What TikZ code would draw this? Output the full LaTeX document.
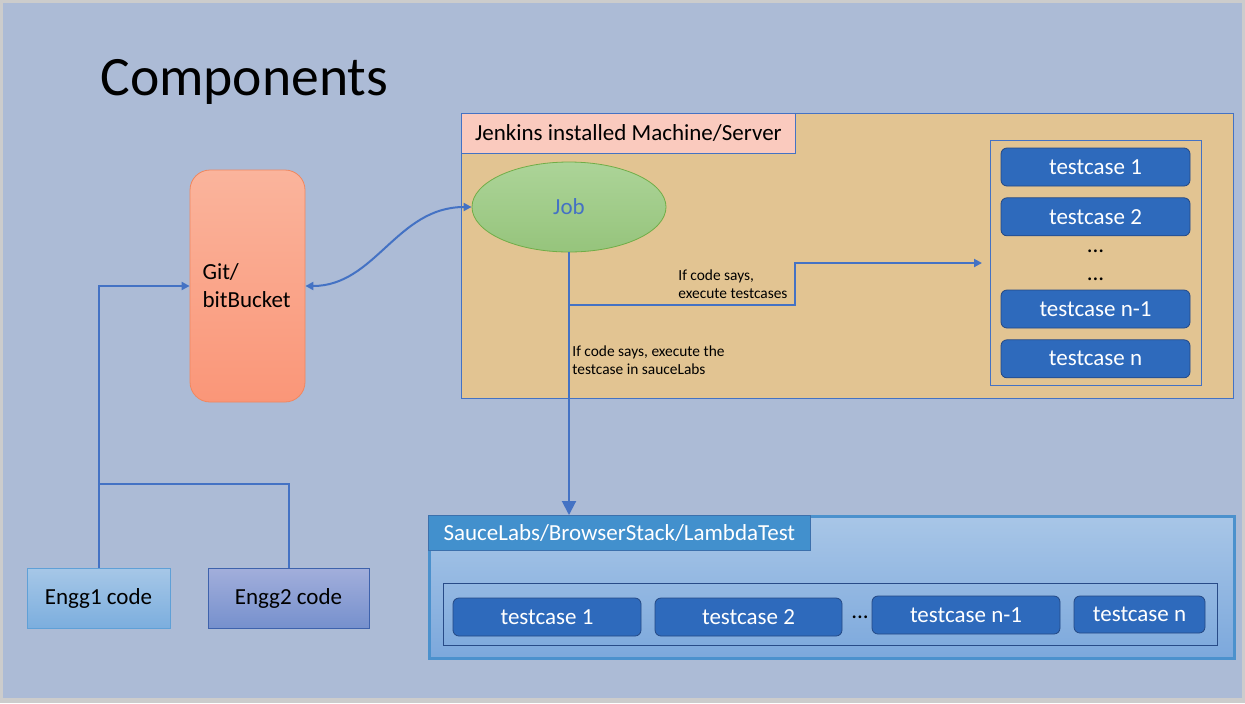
\documentclass[tikz,border=0pt]{standalone}
\usepackage{fontspec}
\setmainfont{Carlito}
\usetikzlibrary{positioning,arrows.meta,shapes.geometric}

\definecolor{bgBlue}{RGB}{172,187,214}
\definecolor{lineBlue}{RGB}{68,114,196}
\definecolor{papyrus}{RGB}{226,196,146}
\definecolor{labelPink}{RGB}{250,202,190}
\definecolor{tcBlue}{RGB}{46,106,188}
\definecolor{tcEdge}{RGB}{36,72,132}
\definecolor{sauceEdge}{RGB}{75,145,205}
\definecolor{sauceLabel}{RGB}{66,144,205}

\tikzset{
  conn/.style={draw=lineBlue,line width=1pt},
  flow/.style={conn,-{Triangle[width=4pt,length=4pt]}},
  tcBox/.style={draw=tcEdge,fill=tcBlue,rounded corners=3pt,text=white,minimum height=19pt,inner sep=0pt},
  codeBox/.style={minimum width=71.5pt,minimum height=30pt,inner sep=0pt},
  smallNote/.style={align=left,font=\fontsize{7.7}{9}\selectfont,inner sep=0pt}
}

\begin{document}
\begin{tikzpicture}[x=0.5pt,y=-0.5pt,font=\fontsize{11.5}{14}\selectfont]

% background
\fill[gray!40] (0,0) rectangle (1245,703);
\fill[bgBlue] (3,3) rectangle (1242,698);
\useasboundingbox (0,0) rectangle (1245,703);

\node[anchor=base west,inner sep=0pt,font=\fontsize{27.8}{30}\selectfont] (title) at (100,95) {Components};

% repository
\node[draw={rgb,255:red,240;green,135;blue,95},top color={rgb,255:red,250;green,180;blue,156},bottom color={rgb,255:red,250;green,150;blue,120},rounded corners=10pt,minimum width=57.5pt,minimum height=116pt,text width=45pt,align=left,inner sep=0pt] (git) at (247.5,286) {Git/\\bitBucket};

% engineers
\node[codeBox,draw={rgb,255:red,95;green,160;blue,215},top color={rgb,255:red,166;green,199;blue,231},bottom color={rgb,255:red,124;green,174;blue,222}] (engg1) at (98.5,598) {Engg1 code};
\node[codeBox,minimum width=80.5pt,draw={rgb,255:red,62;green,98;blue,172},top color={rgb,255:red,162;green,174;blue,219},bottom color={rgb,255:red,118;green,144;blue,205}] (engg2) at (288.5,598) {Engg2 code};

% jenkins machine
\node[draw=lineBlue,fill=papyrus,anchor=north west,minimum width=386pt,minimum height=142.5pt,inner sep=0pt] (jenkins) at (461,113) {};
\node[draw=lineBlue,fill=labelPink,anchor=north west,minimum width=167pt,minimum height=20pt,inner sep=0pt] (jenkinsLabel) at (jenkins.north west) {Jenkins installed Machine/Server};
\node[ellipse,draw={rgb,255:red,112;green,173;blue,71},top color={rgb,255:red,172;green,212;blue,152},bottom color={rgb,255:red,150;green,196;blue,124},minimum width=97pt,minimum height=45pt,text=lineBlue] (job) at (569,207) {Job};

\node[draw=lineBlue,anchor=north west,minimum width=105.5pt,minimum height=122.5pt,inner sep=0pt] (tcFrame) at (990,140) {};
\begin{scope}[every node/.style={tcBox,minimum width=94.5pt},node distance=5.5pt]
\node (tcOne) at (1095.5,167) {testcase 1};
\node (tcTwo) [below=of tcOne] {testcase 2};
\node (tcNm) at (1095.5,309) {testcase n-1};
\node (tcN) [below=of tcNm] {testcase n};
\end{scope}
\node (dotsA) at (1095.5,251) {...};
\node (dotsB) at (1095.5,279) {...};

% cloud providers
\node[draw=sauceEdge,line width=1.5pt,top color={rgb,255:red,168;green,198;blue,231},bottom color={rgb,255:red,124;green,168;blue,220},anchor=north west,minimum width=402.5pt,minimum height=71pt,inner sep=0pt] (sauce) at (428,515) {};
\node[draw={rgb,255:red,60;green,112;blue,172},fill=sauceLabel,text=white,anchor=north west,minimum width=191pt,minimum height=17.5pt,inner sep=0pt] (sauceLabel) at (sauce.north west) {SauceLabs/BrowserStack/LambdaTest};
\node[draw={rgb,255:red,40;green,75;blue,135},anchor=north west,minimum width=387pt,minimum height=31pt,inner sep=0pt] (sauceFrame) at (443,583) {};
\node[tcBox,minimum width=94pt] (stOne) at (547,617) {testcase 1};
\node[tcBox,minimum width=93.5pt] (stTwo) at (748.5,617) {testcase 2};
\node (stDots) at (860,617) {...};
\node[tcBox,minimum width=94pt] (stNm) at (966,615) {testcase n-1};
\node[tcBox,minimum width=65.5pt,minimum height=18.5pt] (stN) at (1139.5,614.5) {testcase n};

% connectors
\coordinate (merge) at (98.5,484);
\coordinate (split) at (569,305);
\coordinate (tcIn) at (982,263);
\draw[flow] (engg1.north) |- (git.west);
\draw[conn] (engg2.north) |- (merge);
\draw[conn,{Triangle[width=4pt,length=4pt]}-{Triangle[width=4pt,length=4pt]}] (git.east) .. controls +(70,0) and +(-75,0) .. (job.west);
\draw[conn,-{Triangle[width=7pt,length=7pt]}] (job.south) -- (sauce.north -| job.south);
\draw[flow] (split) -- (795,305) -- (795,263) -- (tcIn);

\node[smallNote,anchor=west] (noteTests) at (678,284) {If code says,\\execute testcases};
\node[smallNote,anchor=west] (noteSauce) at (572,360.5) {If code says, execute the\\testcase in sauceLabs};

\end{tikzpicture}
\end{document}
